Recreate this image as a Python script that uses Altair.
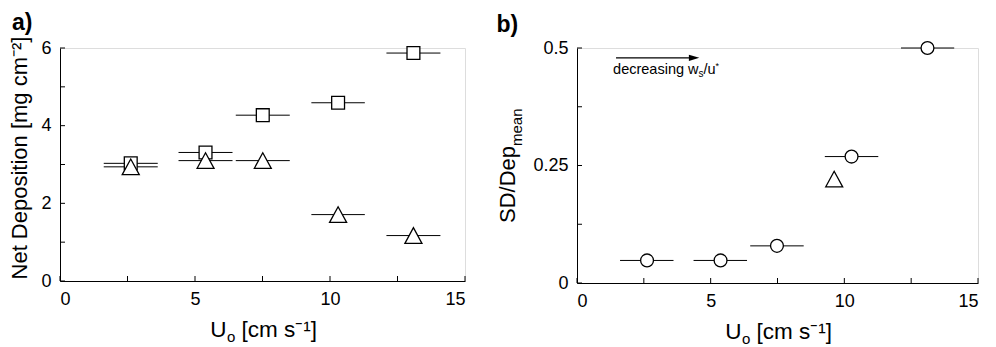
import altair as alt
import pandas as pd

# ---------------- data ----------------
# panel a
u_a = [2.62, 5.39, 7.51, 10.30, 13.09]
u_a_lo = [1.62, 4.39, 6.51, 9.31, 12.09]
u_a_hi = [3.62, 6.39, 8.51, 11.29, 14.09]
dep_square = [3.03, 3.31, 4.27, 4.59, 5.87]
dep_triangle = [2.94, 3.10, 3.10, 1.71, 1.17]

# panel b
u_b = [2.62, 5.37, 7.48, 10.27, 13.11]
u_b_lo = [1.61, 4.36, 6.48, 9.27, 12.12]
u_b_hi = [3.61, 6.36, 8.48, 11.27, 14.11]
sd_ratio = [0.048, 0.048, 0.079, 0.269, 0.50]
tri_b_u = [9.62]
tri_b_ratio = [0.221]

# axes
x_ticks = [0, 2.5, 5, 7.5, 10, 12.5, 15]
x_labels = [0, 5, 10, 15]
y_ticks_a = [0, 1, 2, 3, 4, 5, 6]
y_labels_a = [0, 2, 4, 6]
y_ticks_b = [0, 0.125, 0.25, 0.375, 0.5]
y_labels_b = [0, 0.25, 0.5]

# annotation in panel b
arrow_x = [1.46, 4.38]
arrow_y = [0.479]
note_x = [1.35]
note_y = [0.445]

FONT = "Liberation Sans"
W_A, H_A = 405, 233
W_B, H_B = 401, 235
TRI = "M-1,0.92L0,-0.92L1,0.92Z"
LBL = 18
TTL = 22.5


def x_scale():
    return alt.Scale(domain=[0, 15], nice=False, zero=False)


def x_axis():
    return alt.Axis(values=x_labels, ticks=False, grid=False, domainColor="black",
                    domainWidth=1, labelFontSize=LBL, labelFont=FONT, labelColor="black",
                    labelPadding=9, title="")


def txt(s, size, **kw):
    return alt.Chart(pd.DataFrame({"t": [s]})).mark_text(
        font=FONT, fontSize=size, color="black", **kw).encode(text="t:N")


def x_title(W, H):
    ux = W / 2 - 36
    return [
        txt("U", TTL, align="right", baseline="alphabetic").encode(
            x=alt.value(ux), y=alt.value(H + 55.5)),
        txt("o", 15, align="left", baseline="alphabetic").encode(
            x=alt.value(ux + 0.5), y=alt.value(H + 61)),
        txt("[cm s⁻¹]", TTL, align="left", baseline="alphabetic").encode(
            x=alt.value(ux + 15), y=alt.value(H + 55.5)),
    ]


def ticks(W, H, yt):
    xt = alt.Chart(pd.DataFrame({"t": x_ticks})).mark_rule(color="black").encode(
        x="t:Q", y=alt.value(H), y2=alt.value(H - 5))
    ytk = alt.Chart(pd.DataFrame({"t": yt})).mark_rule(color="black").encode(
        y="t:Q", x=alt.value(0), x2=alt.value(5))
    return [xt, ytk]


def title(s, dx):
    return alt.TitleParams(s, anchor="start", frame="bounds", fontSize=23,
                           fontWeight="bold", font=FONT, color="black", offset=1.5, dx=dx)


# ---------- panel a ----------
ya_scale = alt.Scale(domain=[0, 6], nice=False, zero=False)
df_sq = pd.DataFrame({"u": u_a, "lo": u_a_lo, "hi": u_a_hi, "v": dep_square})
df_tr = pd.DataFrame({"u": u_a, "lo": u_a_lo, "hi": u_a_hi, "v": dep_triangle})

ya_axis = alt.Axis(values=y_labels_a, ticks=False, grid=False, domainColor="black",
                   domainWidth=1, labelFontSize=LBL, labelFont=FONT, labelColor="black",
                   labelPadding=9, title="")

bars_sq = alt.Chart(df_sq).mark_rule(color="black", strokeWidth=1).encode(
    x=alt.X("lo:Q", scale=x_scale(), axis=x_axis()), x2="hi:Q",
    y=alt.Y("v:Q", scale=ya_scale, axis=ya_axis))
bars_tr = alt.Chart(df_tr).mark_rule(color="black", strokeWidth=1).encode(
    x="lo:Q", x2="hi:Q", y="v:Q")
pts_sq = alt.Chart(df_sq).mark_point(shape="square", size=165, filled=True, fill="white",
                                     stroke="black", strokeWidth=1.3, opacity=1).encode(
    x="u:Q", y="v:Q")
pts_tr = alt.Chart(df_tr).mark_point(shape=TRI, size=290, filled=True, fill="white",
                                     stroke="black", strokeWidth=1.3, opacity=1).encode(
    x="u:Q", y="v:Q")

ya_title = txt("Net Deposition [mg cm⁻²]", 22, align="center", baseline="alphabetic",
               angle=270).encode(x=alt.value(-33), y=alt.value(110))

panel_a = alt.layer(bars_sq, bars_tr, pts_sq, pts_tr, *ticks(W_A, H_A, y_ticks_a),
                    *x_title(W_A, H_A), ya_title).properties(
    width=W_A, height=H_A, title=title("a)", 3))

# ---------- panel b ----------
yb_scale = alt.Scale(domain=[0, 0.5], nice=False, zero=False)
df_b = pd.DataFrame({"u": u_b, "lo": u_b_lo, "hi": u_b_hi, "v": sd_ratio})
df_bt = pd.DataFrame({"u": tri_b_u, "v": tri_b_ratio})

yb_axis = alt.Axis(values=y_labels_b, labelExpr="'' + datum.value", ticks=False, grid=False,
                   domainColor="black", domainWidth=1, labelFontSize=LBL, labelFont=FONT,
                   labelColor="black", labelPadding=9, title="")

bars_b = alt.Chart(df_b).mark_rule(color="black", strokeWidth=1).encode(
    x=alt.X("lo:Q", scale=x_scale(), axis=x_axis()), x2="hi:Q",
    y=alt.Y("v:Q", scale=yb_scale, axis=yb_axis))
pts_b = alt.Chart(df_b).mark_point(shape="circle", size=165, filled=True, fill="white",
                                   stroke="black", strokeWidth=1.3, opacity=1).encode(
    x="u:Q", y="v:Q")
pts_bt = alt.Chart(df_bt).mark_point(shape=TRI, size=290, filled=True, fill="white",
                                     stroke="black", strokeWidth=1.3, opacity=1).encode(
    x="u:Q", y="v:Q")
arrow_df = pd.DataFrame({"x1": [arrow_x[0]], "x2": [arrow_x[1]], "y": arrow_y})
arrow_line = alt.Chart(arrow_df).mark_rule(color="black", strokeWidth=1.2).encode(
    x="x1:Q", x2="x2:Q", y="y:Q")
arrow_head = alt.Chart(arrow_df).mark_point(shape="M-1,-0.6L1,0L-1,0.6Z", size=110,
                                           filled=True, color="black", opacity=1).encode(
    x="x2:Q", y="y:Q")

note_df = pd.DataFrame({"x": note_x, "y": note_y})


def note_piece(s, size, dx, dy):
    return alt.Chart(note_df).mark_text(
        align="left", baseline="alphabetic", fontSize=size, font=FONT, color="black",
        dx=dx, dy=dy, text=s).encode(x="x:Q", y="y:Q")


note = [
    note_piece("decreasing w", 14.5, 0, 0),
    note_piece("s", 10, 85.5, 3.5),
    note_piece("/u", 14.5, 90.5, 0),
    note_piece("*", 9, 102.5, -5),
]

# rotated y title for panel b: SD/Dep with subscript "mean"
yb_title = [
    txt("SD/Dep", 22, align="left", baseline="alphabetic", angle=270).encode(
        x=alt.value(-62.5), y=alt.value(175)),
    txt("mean", 15, align="left", baseline="alphabetic", angle=270).encode(
        x=alt.value(-55), y=alt.value(98)),
]

panel_b = alt.layer(bars_b, pts_b, pts_bt, arrow_line, arrow_head, *note,
                    *ticks(W_B, H_B, y_ticks_b), *x_title(W_B, H_B), *yb_title).properties(
    width=W_B, height=H_B, title=title("b)", 0))

chart = alt.hconcat(panel_a, panel_b, spacing=30).properties(
    padding={"left": 0, "top": 3, "right": 0, "bottom": 0}
).configure_view(stroke=None).configure(background="white")

chart.save("out.html", embed_options={"renderer": "svg", "actions": False})
